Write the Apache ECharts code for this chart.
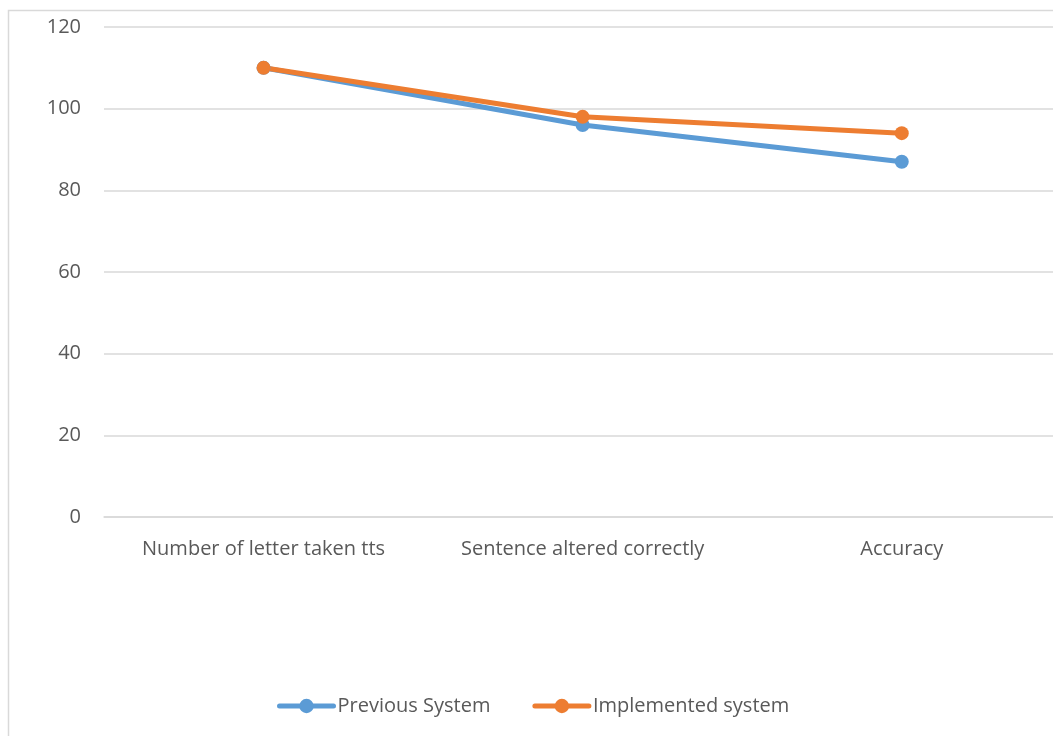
<!DOCTYPE html>
<html>
<head>
<meta charset="utf-8">
<script src="https://cdn.jsdelivr.net/npm/echarts@6/dist/echarts.min.js"></script>
<style>
  html, body { margin: 0; padding: 0; background: #fff; }
  #chart { width: 1053px; height: 736px; }
</style>
</head>
<body>
<div id="chart"></div>
<script>
// Categories and series values
const categories = ['Number of letter taken tts', 'Sentence altered correctly', 'Accuracy'];
const previousSystem = [110, 96, 87];
const implementedSystem = [110, 98, 94];
const yTicks = { min: 0, max: 120, interval: 20 };

const font = '"Open Sans", "Noto Sans", sans-serif';
const textColor = '#595959';
const fontSize = 20;

// Category index positions on a numeric x axis; the last band runs past the right edge
const catIndex = categories.map((_, i) => i);
const toPoints = values => values.map((v, i) => [catIndex[i], v]);

const chart = echarts.init(document.getElementById('chart'), null, { renderer: 'canvas' });

chart.setOption({
  backgroundColor: '#ffffff',
  animation: false,
  graphic: [{
    type: 'rect',
    silent: true,
    shape: { x: 8.5, y: 10.5, width: 1200, height: 1000 },
    style: { fill: 'none', stroke: '#d9d9d9', lineWidth: 1.5 }
  }],
  grid: { left: 104, right: 0, top: 27, bottom: 219, containLabel: false },
  legend: {
    bottom: 15,
    left: 272,
    itemWidth: 54,
    itemHeight: 18,
    itemGap: 42,
    lineStyle: { width: 5 },
    textStyle: { fontFamily: font, fontSize: fontSize, color: textColor, padding: [0, 0, 0, -1] },
    data: ['Previous System', 'Implemented system']
  },
  xAxis: {
    type: 'value',
    min: -0.5,
    max: 2.474,
    axisLine: { show: true, onZero: false, lineStyle: { color: '#d9d9d9', width: 1.5 } },
    axisTick: { show: false },
    splitLine: { show: false },
    axisLabel: {
      customValues: catIndex,
      formatter: v => categories[Math.round(v)],
      fontFamily: font, fontSize: fontSize, color: textColor, margin: 22
    }
  },
  yAxis: {
    type: 'value',
    min: yTicks.min,
    max: yTicks.max,
    interval: yTicks.interval,
    axisLine: { show: false },
    axisTick: { show: false },
    axisLabel: { fontFamily: font, fontSize: fontSize, color: textColor, margin: 23 },
    splitLine: { lineStyle: { color: '#d9d9d9', width: 1.5 } }
  },
  series: [
    {
      name: 'Previous System',
      type: 'line',
      data: toPoints(previousSystem),
      color: '#5B9BD5',
      symbol: 'circle',
      symbolSize: 14,
      lineStyle: { width: 5, cap: 'round' }
    },
    {
      name: 'Implemented system',
      type: 'line',
      data: toPoints(implementedSystem),
      color: '#ED7D31',
      symbol: 'circle',
      symbolSize: 14,
      lineStyle: { width: 5, cap: 'round' }
    }
  ]
});
</script>
</body>
</html>
